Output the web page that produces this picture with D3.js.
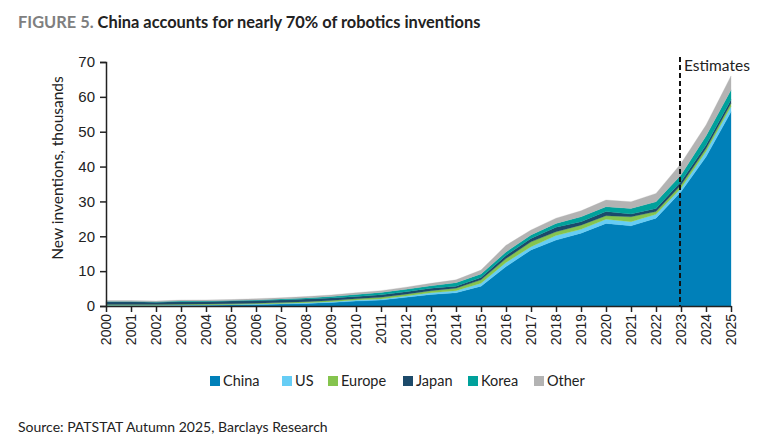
<!DOCTYPE html>
<html><head><meta charset="utf-8">
<script src="https://cdn.jsdelivr.net/npm/d3@7"></script>
<style>body{margin:0;background:#fff;} svg{font-family:"Source Sans Pro",Lato,"Open Sans",sans-serif;}</style>
</head><body>
<svg id="c" width="778" height="448"></svg>
<script>
const years = d3.range(2000, 2026);
const seriesNames = ["China","US","Europe","Japan","Korea","Other"];
const colors = ["#0080b9","#66cdf5","#85c44e","#1c4a6a","#00a19b","#b3b3b3"];
const china  = [0.1,0.1,0.1,0.15,0.2,0.3,0.4,0.55,0.75,1.0,1.4,1.7,2.5,3.3,3.8,5.7,11.3,16.1,18.9,20.9,23.7,23.0,25.2,32.8,42.8,55.7];
const us     = [0.15,0.15,0.15,0.15,0.15,0.15,0.15,0.2,0.2,0.25,0.3,0.3,0.4,0.5,0.6,0.8,1.2,0.9,1.3,1.1,1.2,1.2,1.1,1.0,1.5,1.5];
const europe = [0.15,0.15,0.15,0.2,0.2,0.2,0.25,0.25,0.3,0.35,0.4,0.5,0.5,0.6,0.7,1.0,1.1,1.4,1.1,1.2,1.0,1.4,0.8,0.9,0.9,1.0];
const japan  = [0.8,0.8,0.7,0.75,0.75,0.75,0.75,0.75,0.75,0.7,0.6,0.7,0.7,0.7,0.6,0.7,0.9,1.0,1.3,1.0,1.2,0.8,0.9,1.0,1.0,1.0];
const korea  = [0.1,0.1,0.1,0.15,0.15,0.15,0.2,0.25,0.3,0.4,0.6,0.7,0.7,0.7,1.0,1.0,1.0,1.0,1.1,1.4,1.4,1.6,1.9,1.9,2.6,2.8];
const other  = [0.25,0.25,0.25,0.3,0.3,0.3,0.35,0.35,0.4,0.45,0.5,0.5,0.6,0.7,0.8,1.1,1.9,1.4,1.5,1.7,1.9,1.9,2.4,3.3,3.1,4.0];
const yTicks = [0,10,20,30,40,50,60,70];
const estimateYear = 2023;

const rows = years.map((y,i)=>({year:y, China:china[i], US:us[i], Europe:europe[i], Japan:japan[i], Korea:korea[i], Other:other[i]}));
const stack = d3.stack().keys(seriesNames)(rows);

const svg = d3.select("#c");
const x = d3.scaleLinear().domain([2000,2025]).range([106,731]);
const y = d3.scaleLinear().domain([0,70]).range([306,62]);

const area = d3.area().x(d=>x(d.data.year)).y0(d=>y(d[0])).y1(d=>y(d[1]));
svg.append("g").selectAll("path").data(stack).join("path")
  .attr("d", area).attr("fill",(d,i)=>colors[i]).attr("stroke",(d,i)=>colors[i]).attr("stroke-width",0.3);

// axes
const yAxis = svg.append("g").attr("transform","translate(106,0)")
  .call(d3.axisLeft(y).tickValues(yTicks).tickSize(6).tickPadding(5));
yAxis.select(".domain").attr("stroke","#222").attr("stroke-width",1.5);
yAxis.selectAll(".tick line").attr("stroke","#222").attr("stroke-width",1.5);
yAxis.selectAll("text").attr("font-size",15).attr("fill","#222");

const xAxis = svg.append("g").attr("transform","translate(0,306)")
  .call(d3.axisBottom(x).tickValues(years).tickFormat(d3.format("d")).tickSize(6).tickSizeOuter(0));
xAxis.select(".domain").attr("stroke","#222").attr("stroke-width",1.5);
xAxis.selectAll(".tick line").attr("stroke","#222").attr("stroke-width",1.5);
xAxis.selectAll("text").attr("font-size",14).attr("fill","#222")
  .attr("transform","rotate(-90)").attr("text-anchor","end").attr("dy","0.35em").attr("x",-8).attr("y",0);

// estimates line
svg.append("line").attr("x1",x(estimateYear)-1).attr("x2",x(estimateYear)-1).attr("y1",57).attr("y2",306)
  .attr("stroke","#111").attr("stroke-width",2).attr("stroke-dasharray","5,3");
svg.append("text").attr("x",x(estimateYear)+3).attr("y",71).attr("font-size",15.5).attr("fill","#222").text("Estimates");

// y title
svg.append("text").attr("transform","translate(63,168) rotate(-90)").attr("text-anchor","middle")
  .attr("font-size",15.5).attr("fill","#222").text("New inventions, thousands");

// title
const t = svg.append("text").attr("x",18).attr("y",28).attr("font-size",16.4).attr("font-weight","bold");
t.append("tspan").attr("fill","#7f7f7f").text("FIGURE 5. ");
t.append("tspan").attr("fill","#222").text("China accounts for nearly 70% of robotics inventions");

// legend
const legX = [210,282,328,403,468,534];
const lg = svg.append("g");
seriesNames.forEach((n,i)=>{
  lg.append("rect").attr("x",legX[i]).attr("y",376).attr("width",10).attr("height",10).attr("fill",colors[i]);
  lg.append("text").attr("x",legX[i]+13).attr("y",386).attr("font-size",14.5).attr("fill","#222").text(n);
});

svg.append("text").attr("x",18).attr("y",432).attr("font-size",14).attr("fill","#222")
  .text("Source: PATSTAT Autumn 2025, Barclays Research");
</script>
</body></html>
